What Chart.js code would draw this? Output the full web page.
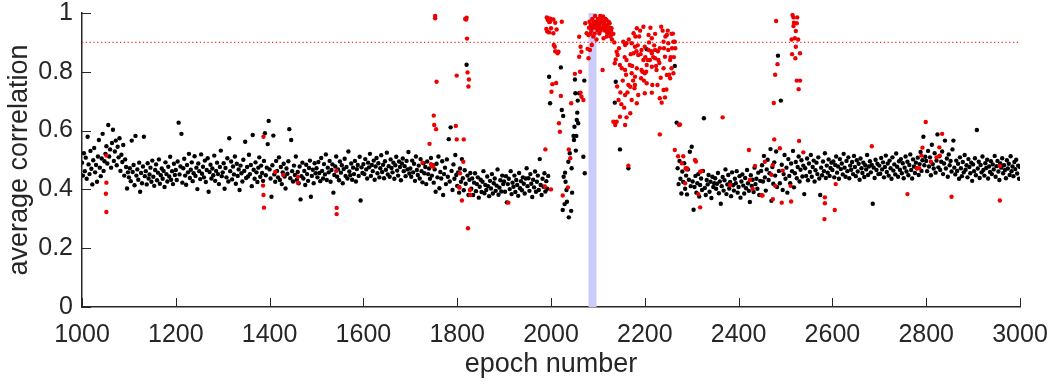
<!DOCTYPE html>
<html>
<head>
<meta charset="utf-8">
<script src="https://cdn.jsdelivr.net/npm/chart.js@4.4.0/dist/chart.umd.min.js"></script>
<style>
  html, body { margin: 0; padding: 0; background: #fff; }
  #wrap { width: 1058px; height: 387px; }
</style>
</head>
<body>
<div id="wrap"><canvas id="chart" width="1058" height="387"></canvas></div>
<script>
// average correlation, black points, every 2nd epoch from 1000 to 1998
const blackStartA = 1000;
const blackStep = 2;
const blackA = [
  .491,.447,.523,.462,.508,.436,.579,.485,.452,.531,.470,.417,.499,.541,.458,.483,.426,.512,.568,.474,.445,.505,.589,.463,.496,
  .521,.547,.488,.619,.512,.536,.474,.558,.603,.497,.529,.566,.482,.545,.509,.574,.463,.518,.493,.551,.447,.502,.476,.403,.458,
  .441,.472,.428,.566,.459,.483,.414,.582,.447,.468,.433,.491,.392,.456,.421,.478,.579,.445,.462,.417,
  .489,.437,.451,.474,.426,.498,.443,.412,.466,.485,.431,.457,.502,.419,.448,.471,.436,.463,.408,.492,
  .452,.427,.477,.444,.511,.433,.462,.418,.487,.449,
  .466,.432,.495,.627,.451,.478,.589,.423,.472,.504,.447,.416,.483,.458,.521,.439,.467,.492,.428,.455,
  .513,.446,.474,.401,.488,.462,.435,.519,.453,.477,.441,.498,.425,.466,.506,.392,.459,.484,.437,.471,
  .448,.515,.429,.463,.491,.452,.418,.476,.532,.445,
  .458,.489,.402,.473,.441,.506,.427,.574,.462,.495,.434,.478,.451,.512,.419,.487,.446,.468,.398,.481,
  .455,.427,.501,.463,.562,.439,.476,.444,.518,.452,.483,.411,.585,.467,.436,.492,.458,.425,.474,.509,
  .443,.481,.456,.429,.497,.591,.448,.474,.554,.633,
  .468,.437,.375,.482,.583,.451,.426,.497,.463,.441,.509,.432,.476,.418,.458,.487,.444,.403,.471,.453,
  .496,.605,.438,.568,.462,.427,.481,.449,.512,.433,.459,.421,.478,.366,.445,.491,.437,.463,.415,.484,
  .452,.429,.473,.498,.375,.446,.467,.421,.489,.455,
  .472,.441,.493,.456,.428,.507,.463,.437,.486,.451,.519,.432,.474,.458,.497,.426,.466,.485,.389,.449,
  .478,.512,.443,.468,.431,.495,.457,.482,.421,.469,.504,.446,.476,.437,.529,.461,.448,.488,.433,.474,
  .452,.497,.427,.469,.483,.446,.511,.362,.475,.456,
  .486,.452,.503,.468,.437,.491,.475,.521,.446,.483,.462,.498,.433,.478,.507,.455,.489,.441,.472,.516,
  .459,.484,.438,.496,.467,.525,.451,.479,.443,.502,.473,.458,.491,.436,.482,.511,.464,.447,.495,.476,
  .431,.488,.505,.462,.479,.445,.497,.468,.527,.454,
  .471,.443,.498,.458,.487,.429,.512,.466,.449,.481,.437,.503,.462,.424,.489,.455,.476,.418,.495,.452,.471,.436,.507,.447,.482,
  .423,.468,.392,.487,.441,.512,.404,.459,.437,.496,.381,.452,.474,.418,.502,.443,.571,.427,.611,.463,.398,.485,.436,.517,.449,
  .412,.458,.389,.471,.426,.503,.438,.397,.465,.419,.824,.447,.381,.433,.456,
  .402,.437,.381,.423,.455,.394,.418,.441,.372,.409,.433,.391,.426,.462,.387,.415,.398,.444,.411,.377,
  .429,.403,.452,.386,.421,.437,.395,.413,.468,.382,.406,.431,.393,.447,.418,
  .427,.392,.445,.356,.418,.436,.401,.462,.384,.423,.409,.447,.391,.432,.415,.378,.456,.404,.428,.397,.441,.419,.386,.437,.472,
  .411,.438,.395,.452,.419,.374,.433,.407,.461,.392,.426,.447,.398,.503,.415,.381,.436,.409,.455,.393,.428,.402,.446,.783,.693
];

// black points inside the transition (2000..2269)
const blackMidEpochs = [
  2021,2023,2025,2026,2027,2029,2030,2031,2033,2034, 2037,2038,2040,2043,2044,2045,2048,2049,2050,2051,
  2052,2053,2054,2055,2056,2057,2058,2060,2069,2071, 2072,2136,2138,2147,2165,2204,2264,2268
];
const blackMidValues = [
  .815,.67,.33,.65,.443,.35,.457,.426,.398,.358, .494,.305,.523,.327,.472,.389,.582,.568,.613,.774,
  .727,.532,.582,.636,.661,.702,.625,.727,.511,.77, .455,.695,.766,.536,.472,.877,.82,.627
];

// black points, every 2nd epoch from 2270 to 3000
const blackStartC = 2270;
const blackC = [
  .472,.418,.497,.436,.386,.461,.425,.489,.402,.447,.383,.468,.433,.528,.411,
  .545,.427,.331,.408,.446,.389,.421,.452,.376,.415,.437,.398,.463,.642,.405,.381,.432,.417,.449,.392,.426,.371,.443,.408,.421,
  .438,.402,.419,.456,.387,.427,.351,.411,.442,.396,.431,.468,.384,.417,.449,.403,.425,.377,.458,.414,
  .396,.436,.421,.462,.389,.408,.445,.372,.427,.451,.413,.386,.439,.404,.466,.421,.395,.357,.448,.412,
  .433,.391,.474,.418,.436,.402,.457,.381,.429,.463,
  .482,.427,.514,.441,.396,.468,.501,.432,.455,.537,.361,.476,.419,.492,.447,.529,.408,.855,.463,.421,
  .702,.484,.398,.452,.517,.436,.474,.389,.503,.446,.421,.488,.462,.531,.407,.455,.493,.438,.476,.512,
  .427,.467,.499,.444,.481,
  .384,.472,.446,.505,.431,.488,.459,.517,.443,.476,.498,.427,.465,.491,.452,.509,.437,.381,.474,.448,
  .495,.462,.523,.439,.481,.457,.502,.446,.473,.491,
  .466,.495,.441,.483,.512,.457,.478,.436,.503,.469,.488,.451,.521,.474,.443,.497,.462,.509,.438,.481,
  .467,.493,.452,.514,.476,.445,.499,.461,.487,.433,.505,.472,.456,.491,.442,.482,.468,.517,.449,.478,
  .496,.458,.483,.351,.474,.439,.501,.466,.487,.452,
  .481,.453,.507,.468,.492,.441,.476,.515,.459,.488,.447,.498,.472,.436,.509,.464,.485,.451,.522,.477,
  .443,.496,.467,.503,.455,.489,.438,.474,.512,.461,.494,.448,.483,.519,.466,.437,.502,.478,.456,.491,
  .472,.508,.449,.486,.527,.463,.499,.579,.482,.511,
  .497,.462,.531,.478,.509,.448,.552,.486,.471,.523,.457,.498,.587,.475,.513,.466,.494,.529,.452,.488,
  .566,.471,.505,.443,.519,.482,.497,.461,.536,.566,
  .474,.451,.498,.463,.487,.436,.509,.472,.445,.493,.458,.517,.467,.482,.441,.503,.476,.455,.491,.429,
  .485,.462,.506,.448,.602,.471,.494,.439,.483,.458,.512,.466,.447,.489,.473,.501,.437,.478,.459,.496,
  .452,.485,.468,.514,.443,.479,.497,.461,.432,.488,.474,.506,.455,.482,.466,.438,.499,.471,.487,.449,
  .513,.462,.478,.445,.493,.469,.501,.454,.481,.436,.476
];

// red (flagged) epochs and their correlation
const redEpochs = [
  1052,1052,1051,1052,1387,1386,1387,1388,1412,1429,
  1460,1460,1542,1543,1543,1726,1741,1744,1746,1749,
  1750,1751,1755,1753,1753,1756,1797,1799,1799,1814,
  1806,1813,1805,1804,1810,1817,1819,1820,1821,1822,
  1824,1825,1823,1827,1828,1909,1987,1988,2000,1990,
  1991,1992,1993,1994,1996,1996,1998,1999,2000,2005,
  2005,2006,2008,2009,2009,2012,2014,2016,2023,2001,
  2003,2011,2021,2017,2019,2025,2036,2041,2038,2043,
  2051,2062,2063,2065,2069,2060,2060,2063,2065,2073,
  2076,2078,2080,2080,2081,2082,2083,2084,2085,2086,
  2087,2088,2089,2090,2091,2092,2093,2094,2095,2096,
  2097,2098,2099,2100,2101,2102,2103,2104,2105,2106,
  2107,2108,2109,2110,2111,2112,2113,2114,2115,2116,
  2117,2118,2119,2120,2121,2122,2123,2124,2125,2126,
  2127,2128,2129,2130,2131,2133,2135,2133,2136,2137,
  2140,2140,2142,2144,2147,2147,2151,2154,2156,2158,
  2158,2158,2158,2161,2161,2161,2165,2165,2168,2169,
  2169,2172,2172,2172,2176,2176,2178,2179,2179,2179,
  2183,2183,2183,2186,2186,2190,2192,2193,2193,2197,
  2197,2200,2200,2200,2204,2204,2208,2208,2211,2215,
  2215,2215,2215,2216,2222,2222,2222,2225,2227,2229,
  2232,2232,2232,2235,2236,2240,2240,2240,2243,2243,
  2247,2247,2250,2250,2254,2254,2257,2257,2261,2261,
  2138,2141,2145,2148,2150,2153,2157,2160,2163,2166,
  2170,2173,2175,2180,2182,2185,2188,2191,2195,2198,
  2201,2203,2206,2209,2212,2214,2218,2220,2224,2228,
  2231,2234,2238,2241,2244,2246,2249,2252,2255,2258,
  2260,2262,
  2264,2265,2264,2271,2273,2275,2279,2282,2286,2287,
  2289,2290,2307,2309,2318,2321,2314,2318,2366,2382,
  2422,2424,2430,2435,2449,2451,2456,2470,2473,2473,
  2475,2476,2478,2478,2480,2483,2488,2492,2494,2511,
  2512,2513,2514,2515,2517,2517,2518,2520,2521,2522,
  2522,2524,2524,2525,2527,2528,2529,2531,2531,2538,
  2583,2584,2584,2605,2607,2684,2760,2780,2785,2790,
  2792,2799,2810,2822,2828,2829,2834,2854,2957,2957
];
const redValues = [
  .515,.423,.385,.323,.579,.413,.381,.338,.459,.449,
  .443,.423,.463,.337,.316,.491,.555,.486,.480,.477,
  .651,.619,.605,.990,.982,.766,.616,.787,.570,.570,
  .455,.494,.406,.408,.362,.980,.978,.984,.913,.798,
  .750,.774,.268,.398,.381,.355,.410,.536,.400,.946,
  .985,.937,.977,.982,.969,.934,.970,.981,.948,.978,
  .931,.891,.885,.967,.870,.944,.863,.868,.970,.732,
  .758,.762,.718,.625,.596,.379,.407,.506,.536,.693,
  .793,.800,.729,.715,.704,.919,.851,.885,.868,.965,
  .931,.878,.925,.846,.950,.970,.874,.930,.960,.940,
  .891,.980,.950,.920,.970,.960,.930,.990,.950,.970,
  .910,.960,.940,.980,.950,.970,.930,.960,.990,.940,
  .970,.982,.950,.806,.988,.914,.960,.970,.940,.980,
  .950,.976,.920,.931,.960,.940,.970,.930,.965,.950,
  .920,.940,.948,.910,.930,.929,.900,.630,.829,.619,
  .868,.630,.857,.704,.823,.647,.812,.902,.678,.806,
  .891,.721,.619,.840,.897,.645,.755,.481,.823,.749,
  .659,.897,.795,.704,.931,.863,.744,.885,.783,.755,
  .948,.812,.693,.857,.721,.940,.778,.874,.806,.953,
  .840,.885,.795,.727,.823,.761,.925,.874,.840,.914,
  .863,.817,.729,.755,.929,.874,.846,.806,.755,.840,
  .880,.710,.587,.953,.695,.902,.812,.738,.851,.713,
  .925,.789,.897,.874,.840,.778,.929,.812,.902,.795,
  .842,.750,.880,.730,.690,.770,.850,.790,.730,.910,
  .860,.820,.770,.920,.870,.890,.920,.860,.800,.770,
  .850,.800,.840,.900,.950,.870,.850,.890,.820,.870,
  .830,.780,.940,.880,.920,.740,.940,.790,.850,.880,
  .930,.850,
  .902,.880,.534,.513,.619,.621,.489,.513,.421,.472,
  .468,.472,.500,.495,.460,.462,.384,.339,.645,.415,
  .534,.432,.402,.480,.380,.379,.494,.450,.483,.367,
  .694,.570,.790,.412,.973,.826,.540,.355,.464,.412,
  .359,.910,.860,.993,.985,.956,.967,.914,.846,.939,
  .885,.965,.770,.985,.910,.741,.565,.863,.770,.526,
  .299,.373,.353,.330,.418,.547,.384,.472,.472,.515,
  .542,.629,.494,.509,.543,.515,.589,.375,.480,.362
];

const threshold = 0.9;
const band = [2080, 2097];   // highlighted epochs
const xTicks = [1000, 1200, 1400, 1600, 1800, 2000, 2200, 2400, 2600, 2800, 3000];
const yTicks = [0, 0.2, 0.4, 0.6, 0.8, 1];

function seriesFrom(start, step, vals) {
  let pts = [];
  for (let i = 0; i < vals.length; i++) {
    if (vals[i] != null) pts.push({x: start + i * step, y: vals[i]});
  }
  return pts;
}
function pairs(xs, ys) {
  let pts = [];
  for (let i = 0; i < xs.length; i++) pts.push({x: xs[i], y: ys[i]});
  return pts;
}

const blackPts = seriesFrom(blackStartA, blackStep, blackA)
  .concat(pairs(blackMidEpochs, blackMidValues))
  .concat(seriesFrom(blackStartC, blackStep, blackC));
const redPts = pairs(redEpochs, redValues);

const axisColor = '#262626';
const fontFamily = '"Liberation Sans", Arial, Helvetica, sans-serif';

// shaded band behind the points
const bandPlugin = {
  id: 'band',
  beforeDatasetsDraw(chart) {
    const {ctx, chartArea, scales} = chart;
    const x0 = scales.x.getPixelForValue(band[0]);
    const x1 = scales.x.getPixelForValue(band[1]);
    ctx.save();
    ctx.fillStyle = 'rgb(204,204,250)';
    ctx.fillRect(x0, chartArea.top, x1 - x0, chartArea.bottom - chartArea.top);
    ctx.restore();
  }
};

// matlab style ticks pointing into the plot
const tickPlugin = {
  id: 'inTicks',
  afterDatasetsDraw(chart) {
    const {ctx, chartArea, scales} = chart;
    ctx.save();
    ctx.strokeStyle = axisColor;
    ctx.lineWidth = 1;
    ctx.beginPath();
    for (let t of scales.x.ticks) {
      let px = Math.round(scales.x.getPixelForValue(t.value)) + 0.5;
      ctx.moveTo(px, chartArea.bottom);
      ctx.lineTo(px, chartArea.bottom - 9);
    }
    for (let t of scales.y.ticks) {
      let py = Math.round(scales.y.getPixelForValue(t.value)) + 0.5;
      ctx.moveTo(chartArea.left, py);
      ctx.lineTo(chartArea.left + 9, py);
    }
    ctx.stroke();
    ctx.restore();
  }
};

const ctx = document.getElementById('chart');
new Chart(ctx, {
  type: 'scatter',
  data: {
    datasets: [
      {
        label: 'flagged',
        data: redPts,
        backgroundColor: 'rgb(238,0,0)',
        pointRadius: 2.2,
        pointBorderWidth: 0,
        order: 0
      },
      {
        label: 'epochs',
        data: blackPts,
        backgroundColor: '#000',
        pointRadius: 2.2,
        pointBorderWidth: 0,
        order: 1
      },
      {
        type: 'line',
        label: 'threshold',
        data: [{x: xTicks[0], y: threshold}, {x: xTicks[xTicks.length - 1], y: threshold}],
        borderColor: 'rgba(255,30,30,0.9)',
        borderWidth: 1.3,
        borderDash: [1.3, 2.5],
        pointRadius: 0,
        order: 2
      }
    ]
  },
  options: {
    responsive: false,
    animation: false,
    devicePixelRatio: 1,
    events: [],
    layout: { padding: { top: 13, right: 38, left: 0, bottom: 0 } },
    plugins: { legend: { display: false }, tooltip: { enabled: false } },
    scales: {
      x: {
        type: 'linear',
        min: 1000, max: 3000,
        afterBuildTicks: (s) => { s.ticks = xTicks.map(v => ({value: v})); },
        afterFit: (s) => { s.height = 80; s.paddingLeft = 0; s.paddingRight = 0; },
        grid: { display: false, drawTicks: false },
        border: { display: true, color: axisColor, width: 1.5 },
        ticks: { color: axisColor, padding: 16, maxRotation: 0,
                 callback: (v) => String(v),
                 font: { family: fontFamily, size: 25, lineHeight: 1 } },
        title: { display: true, text: 'epoch number', color: axisColor,
                 padding: { top: 0, bottom: 6 },
                 font: { family: fontFamily, size: 27 } }
      },
      y: {
        type: 'linear',
        min: 0, max: 1,
        afterBuildTicks: (s) => { s.ticks = yTicks.map(v => ({value: v})); },
        afterFit: (s) => { s.width = 82; s.paddingTop = 0; s.paddingBottom = 0; },
        grid: { display: false, drawTicks: false },
        border: { display: true, color: axisColor, width: 1.5 },
        ticks: { color: axisColor, padding: 9,
                 callback: (v) => String(v),
                 font: { family: fontFamily, size: 25, lineHeight: 1 } },
        title: { display: true, text: 'average correlation', color: axisColor,
                 padding: { top: 3, bottom: 0 },
                 font: { family: fontFamily, size: 27 } }
      }
    }
  },
  plugins: [bandPlugin, tickPlugin]
});
</script>
</body>
</html>
